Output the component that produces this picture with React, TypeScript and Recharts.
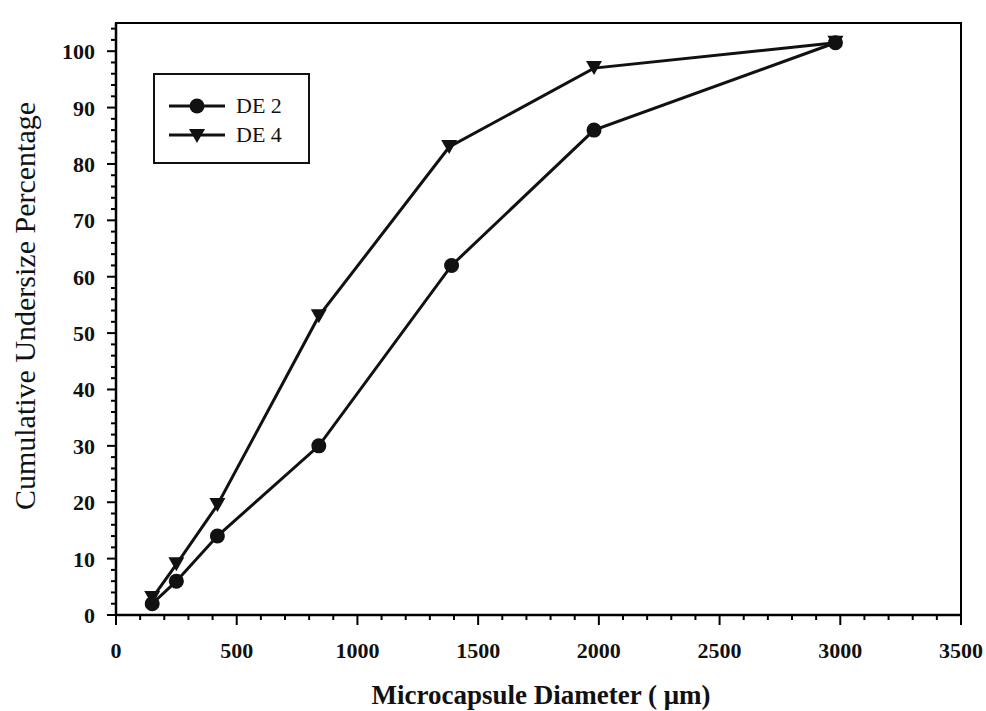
import React from "react";
import { LineChart, Line, XAxis, YAxis, ReferenceArea } from "recharts";

// DE 2 and DE 4 cumulative undersize curves
const diameterDE2 = [150, 250, 420, 840, 1390, 1980, 2980];
const cumulativeDE2 = [2, 6, 14, 30, 62, 86, 101.5];
const diameterDE4 = [150, 250, 420, 840, 1380, 1980, 2980];
const cumulativeDE4 = [3, 9, 19.5, 53, 83, 97, 101.5];

const xMajorTicks = [0, 500, 1000, 1500, 2000, 2500, 3000, 3500];
const yMajorTicks = [0, 10, 20, 30, 40, 50, 60, 70, 80, 90, 100];
const xTicks: number[] = [];
for (let v = 0; v <= 3500; v += 100) xTicks.push(v);
const yTicks: number[] = [];
for (let v = 0; v <= 104; v += 2) yTicks.push(v);

const seriesNames = ["DE 2", "DE 4"];

const de2 = diameterDE2.map((d, i) => ({ d, v: cumulativeDE2[i] }));
const de4 = diameterDE4.map((d, i) => ({ d, v: cumulativeDE4[i] }));

const FONT = '"Liberation Serif", "Times New Roman", serif';

const XTick = (props: any) => {
  const { x, y, payload } = props;
  const major = xMajorTicks.includes(payload.value);
  return (
    <g>
      <line x1={x} y1={y} x2={x} y2={y + (major ? 10 : 5)} stroke="#000" strokeWidth={2} />
      {major && (
        <text x={x} y={y + 43} textAnchor="middle" fontFamily={FONT} fontWeight="bold" fontSize={22} fill="#111">
          {payload.value}
        </text>
      )}
    </g>
  );
};

const YTick = (props: any) => {
  const { x, y, payload } = props;
  const major = yMajorTicks.includes(payload.value);
  return (
    <g>
      <line x1={x} y1={y} x2={x - (major ? 9 : 5)} y2={y} stroke="#000" strokeWidth={2} />
      {major && (
        <text x={x - 21} y={y + 8} textAnchor="end" fontFamily={FONT} fontWeight="bold" fontSize={22} fill="#111">
          {payload.value}
        </text>
      )}
    </g>
  );
};

const Triangle = (props: any) => {
  const { cx, cy } = props;
  if (cx == null || cy == null) return null;
  return <polygon points={`${cx - 8},${cy - 7} ${cx + 8},${cy - 7} ${cx},${cy + 7}`} fill="#111" />;
};

const Circle = (props: any) => {
  const { cx, cy } = props;
  if (cx == null || cy == null) return null;
  return <circle cx={cx} cy={cy} r={7.5} fill="#111" />;
};

const LegendBox = () => (
  <svg width={158} height={92}>
    <rect x={1} y={1} width={155} height={89} fill="#fff" stroke="#111" strokeWidth={2} />
    <line x1={16} y1={33} x2={72} y2={33} stroke="#111" strokeWidth={3} />
    <circle cx={44} cy={33} r={7.5} fill="#111" />
    <text x={83} y={40} fontFamily={FONT} fontSize={22} fill="#111">{seriesNames[0]}</text>
    <line x1={16} y1={62} x2={72} y2={62} stroke="#111" strokeWidth={3} />
    <polygon points="36,56 52,56 44,70" fill="#111" />
    <text x={83} y={69} fontFamily={FONT} fontSize={22} fill="#111">{seriesNames[1]}</text>
  </svg>
);

export default function App() {
  return (
    <div style={{ position: "absolute", left: 0, top: 0, width: 986, height: 711, background: "#fff" }}>
      <LineChart width={986} height={711} margin={{ top: 23, right: 25, bottom: 0, left: 0 }}>
        <XAxis
          type="number"
          dataKey="d"
          domain={[0, 3500]}
          ticks={xTicks}
          interval={0}
          tick={<XTick />}
          tickLine={false}
          tickSize={0}
          tickMargin={0}
          height={96}
          axisLine={{ stroke: "#000", strokeWidth: 2.5 }}
          allowDataOverflow
        />
        <YAxis
          type="number"
          dataKey="v"
          domain={[0, 105]}
          ticks={yTicks}
          interval={0}
          tick={<YTick />}
          tickLine={false}
          tickSize={0}
          tickMargin={0}
          width={116}
          axisLine={{ stroke: "#000", strokeWidth: 2.5 }}
          allowDataOverflow
        />
        <ReferenceArea x1={0} x2={3500} y1={0} y2={105} fill="none" stroke="#000" strokeWidth={2} />
        <Line
          data={de2}
          dataKey="v"
          name={seriesNames[0]}
          stroke="#111"
          strokeWidth={3}
          dot={<Circle />}
          activeDot={false}
          isAnimationActive={false}
        />
        <Line
          data={de4}
          dataKey="v"
          name={seriesNames[1]}
          stroke="#111"
          strokeWidth={3}
          dot={<Triangle />}
          activeDot={false}
          isAnimationActive={false}
        />
      </LineChart>
      <div style={{ position: "absolute", left: 153, top: 73 }}>
        <LegendBox />
      </div>
      <div
        style={{
          position: "absolute",
          left: 25,
          top: 306,
          transform: "translate(-50%, -50%) rotate(-90deg)",
          whiteSpace: "nowrap",
          fontFamily: FONT,
          fontSize: 30,
          color: "#111",
        }}
      >
        Cumulative Undersize Percentage
      </div>
      <div
        style={{
          position: "absolute",
          left: 541,
          top: 695,
          transform: "translate(-50%, -50%)",
          whiteSpace: "nowrap",
          fontFamily: FONT,
          fontWeight: "bold",
          fontSize: 27,
          color: "#111",
        }}
      >
        Microcapsule Diameter ( μm)
      </div>
    </div>
  );
}
